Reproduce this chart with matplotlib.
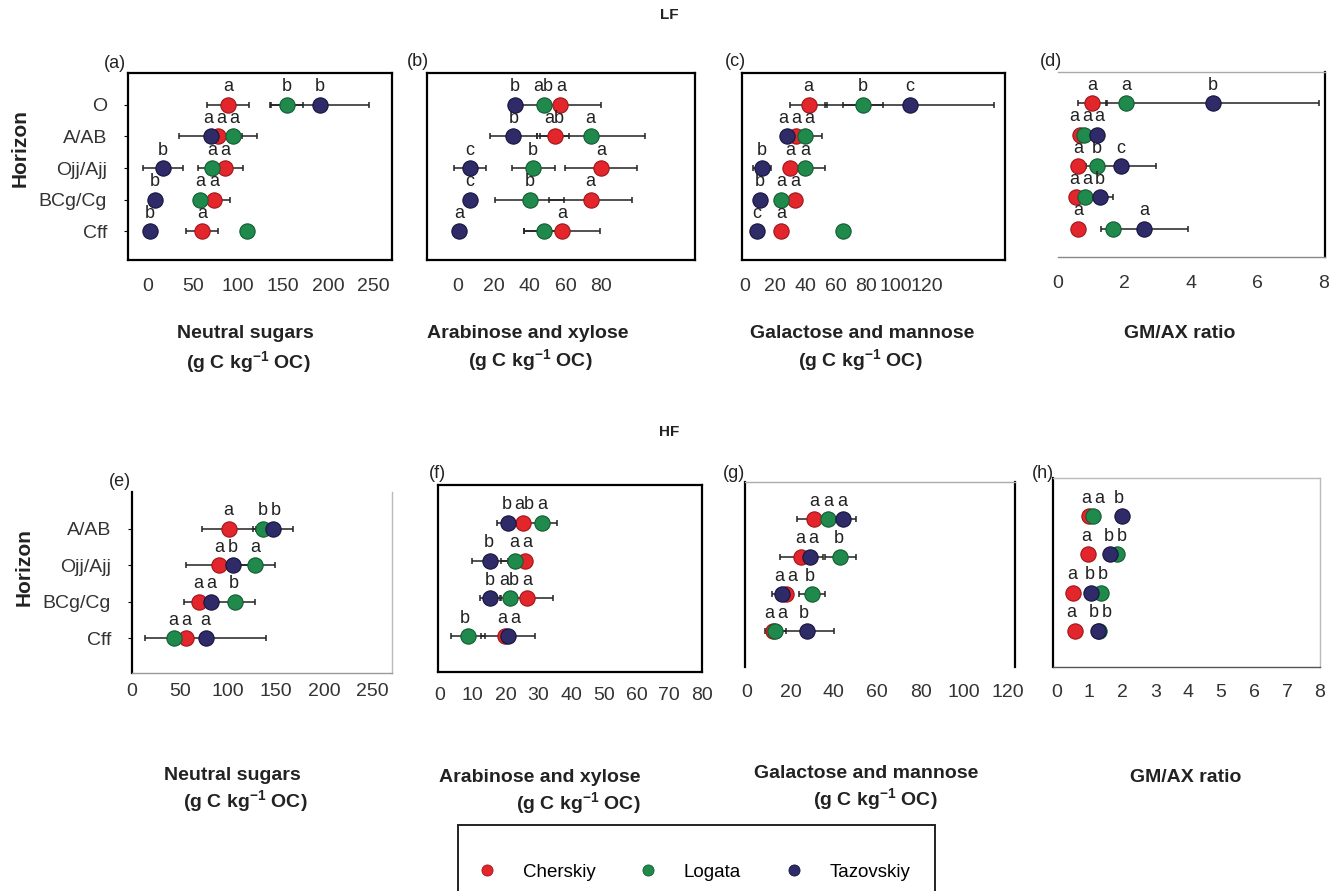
import matplotlib
matplotlib.use('Agg')
import matplotlib.pyplot as plt
from matplotlib.patches import Rectangle
from matplotlib.lines import Line2D
import numpy as np

plt.rcParams['font.family'] = ['Liberation Sans', 'DejaVu Sans']
plt.rcParams['mathtext.fontset'] = 'custom'
plt.rcParams['mathtext.rm'] = 'Liberation Sans'
plt.rcParams['mathtext.bf'] = 'Liberation Sans:bold'

sites = ['Cherskiy', 'Logata', 'Tazovskiy']
colors = ['#e3262b', '#1f8a4c', '#2e2b68']
edges = ['#a01519', '#125c31', '#17153c']

lf_horizons = ['O', 'A/AB', 'Ojj/Ajj', 'BCg/Cg', 'Cff']
hf_horizons = ['A/AB', 'Ojj/Ajj', 'BCg/Cg', 'Cff']

# rows of each list: Cherskiy, Logata, Tazovskiy
# (a) LF neutral sugars
lf_ns_mean = [[89, 78, 86, 74, 60], [154, 95, 71, 58, 110], [191, 70, 17, 8, 2]]
lf_ns_err = [[23, 43, 20, 17, 18], [18, 10, 15, 0, 0], [54, 0, 22, 0, 0]]
lf_ns_let = [['a', 'a', 'a', 'a', 'a'], ['b', 'a', 'a', 'a', ''], ['b', 'a', 'b', 'b', 'b']]
# (b) LF arabinose + xylose
lf_ax_mean = [[57, 54, 80, 74, 58], [48, 74, 42, 40, 48], [32, 31, 7, 7, 1]]
lf_ax_err = [[23, 8, 20, 23, 21], [0, 30, 12, 19, 11], [0, 13, 9, 0, 0]]
lf_ax_let = [['a', 'ab', 'a', 'a', 'a'], ['ab', 'a', 'b', 'b', ''], ['b', 'b', 'c', 'c', 'a']]
# (c) LF galactose + mannose
lf_gm_mean = [[42, 34, 30, 33, 24], [78, 40, 40, 24, 65], [109, 28, 11, 10, 8]]
lf_gm_err = [[12, 0, 0, 0, 0], [13, 11, 13, 0, 0], [56, 0, 6, 0, 0]]
lf_gm_let = [['a', 'a', 'a', 'a', 'a'], ['b', 'a', 'a', 'a', ''], ['c', 'a', 'b', 'b', 'c']]
# (d) LF GM/AX ratio
lf_ratio_mean = [[1.03, 0.65, 0.6, 0.53, 0.6], [2.06, 0.77, 1.18, 0.82, 1.65], [4.65, 1.18, 1.9, 1.26, 2.6]]
lf_ratio_err = [[0.43, 0, 0, 0, 0], [0, 0, 0, 0, 0], [3.2, 0, 1.05, 0.4, 1.3]]
lf_ratio_let = [['a', 'a', 'a', 'a', 'a'], ['a', 'a', 'b', 'a', ''], ['b', 'a', 'c', 'b', 'a']]
# (e) HF neutral sugars
hf_ns_mean = [[101, 91, 70, 56], [137, 128, 107, 44], [147, 105, 82, 77]]
hf_ns_err = [[28, 35, 16, 0], [0, 21, 21, 0], [21, 0, 0, 63]]
hf_ns_let = [['a', 'a', 'a', 'a'], ['b', 'a', 'b', 'a'], ['b', 'b', 'a', 'a']]
# (f) HF arabinose + xylose
hf_ax_mean = [[25.4, 26, 26.6, 20], [31.2, 23, 21.4, 8.6], [20.8, 15.3, 15.3, 20.8]]
hf_ax_err = [[0, 0, 8, 0], [4.6, 4.5, 0, 5.2], [3.4, 5.5, 3.1, 8.2]]
hf_ax_let = [['ab', 'a', 'a', 'a'], ['a', 'a', 'ab', 'b'], ['b', 'b', 'b', 'a']]
# (g) HF galactose + mannose
hf_gm_mean = [[31, 25, 18, 12], [37.5, 43, 30, 13], [44, 29, 16, 27.6]]
hf_gm_err = [[8, 10, 0, 0], [0, 7, 6, 5], [6, 0, 4.5, 12.4]]
hf_gm_let = [['a', 'a', 'a', 'a'], ['a', 'b', 'b', 'a'], ['a', 'a', 'a', 'b']]
# (h) HF GM/AX ratio
hf_ratio_mean = [[1.0, 0.97, 0.52, 0.58], [1.1, 1.85, 1.35, 1.3], [2.0, 1.64, 1.05, 1.27]]
hf_ratio_err = [[0, 0, 0, 0], [0, 0, 0, 0], [0, 0, 0, 0]]
hf_ratio_let = [['a', 'a', 'a', 'a'], ['a', 'b', 'b', 'b'], ['b', 'b', 'b', 'b']]

W, H = 1338, 891
fig = plt.figure(figsize=(W / 100, H / 100), dpi=100)


def rect(l, t, r, b):
    return [l / W, 1 - b / H, (r - l) / W, (b - t) / H]


def fx(x):
    return x / W


def fy(y):
    return 1 - y / H


ns_label = 'Neutral sugars'
ax_label = 'Arabinose and xylose'
gm_label = 'Galactose and mannose'
ratio_label = 'GM/AX ratio'
unit_label = r'(g C kg$^{\mathbf{-1}}$ OC)'

panels = [
    ('(a)', lf_horizons, lf_ns_mean, lf_ns_err, lf_ns_let, (128, 73, 392, 260), (-22, 271), np.arange(0, 251, 50), 13, 'fbox'),
    ('(b)', lf_horizons, lf_ax_mean, lf_ax_err, lf_ax_let, (427, 73, 695, 260), (-17, 132), np.arange(0, 81, 20), 13, 'box'),
    ('(c)', lf_horizons, lf_gm_mean, lf_gm_err, lf_gm_let, (742, 73, 1005, 260), (-2, 172), np.arange(0, 121, 20), 13, 'box'),
    ('(d)', lf_horizons, lf_ratio_mean, lf_ratio_err, lf_ratio_let, (1058, 72, 1325, 257), (0.18, 8.03), np.arange(0, 9, 2), 13, 'd'),
    ('(e)', hf_horizons, hf_ns_mean, hf_ns_err, hf_ns_let, (132, 492, 392, 673), (0, 271), np.arange(0, 251, 50), 7, 'e'),
    ('(f)', hf_horizons, hf_ax_mean, hf_ax_err, hf_ax_let, (438, 485, 702, 672), (-0.6, 80), np.arange(0, 81, 10), 11, 'box'),
    ('(g)', hf_horizons, hf_gm_mean, hf_gm_err, hf_gm_let, (745, 482, 1015, 667), (-1, 123.5), np.arange(0, 121, 20), 12, 'g'),
    ('(h)', hf_horizons, hf_ratio_mean, hf_ratio_err, hf_ratio_let, (1053, 478, 1320, 667), (-0.1, 8.0), np.arange(0, 9, 1), 12, 'h'),
]

spine_styles = {
    'box': {'left': 'k', 'right': 'k', 'top': 'k', 'bottom': 'k'},
    'fbox': {'left': 'k', 'right': 'k', 'top': 'k', 'bottom': 'k'},
    'd': {'left': None, 'right': 'k', 'top': '#aaaaaa', 'bottom': '#888888'},
    'e': {'left': 'k', 'right': '#bbbbbb', 'top': None, 'bottom': '#999999'},
    'g': {'left': 'k', 'right': 'k', 'top': '#aaaaaa', 'bottom': None},
    'h': {'left': 'k', 'right': '#bbbbbb', 'top': '#bbbbbb', 'bottom': '#555555'},
}


def place_letters(ax, xs, y, labs):
    pts = []
    for x, t in zip(xs, labs):
        if t:
            pts.append((ax.transData.transform((x, y))[0], x, t))
    pts.sort()
    if not pts:
        return
    orig = [p[0] for p in pts]
    new = list(orig)
    for i in range(1, len(new)):
        gap = 5.0 * (len(pts[i][2]) + len(pts[i - 1][2])) + 3
        if new[i] < new[i - 1] + gap:
            new[i] = new[i - 1] + gap
    shift = np.mean(new) - np.mean(orig)
    for (px, x, t), nx in zip(pts, new):
        dx = (nx - shift - px) * 72 / fig.dpi
        ax.annotate(t, (x, y), xytext=(dx, 13), textcoords='offset points',
                    ha='center', va='center', fontsize=13, color='#222222')


axes = []
for tag, horizons, mean, err, lets, box, xlim, ticks, pad, style in panels:
    ax = fig.add_axes(rect(*box))
    axes.append(ax)
    n = len(horizons)
    ypos = np.arange(1, n + 1)
    ax.set_xlim(*xlim)
    ax.set_ylim(5.9 if n == 5 else 4.95, 0.0)
    for k in range(3):
        e = np.array(err[k], dtype=float)
        m = np.array(mean[k], dtype=float)
        has = e > 0
        if has.any():
            ax.errorbar(m[has], ypos[has], xerr=e[has], fmt='none', ecolor='#222222',
                        elinewidth=1.1, capsize=2.5, capthick=1.1, zorder=1)
    for k in range(3):
        ax.plot(mean[k], ypos, 'o', ms=11, color=colors[k], mec=edges[k], mew=0.8,
                zorder=2 + k, linestyle='none')
    for r in range(n):
        place_letters(ax, [mean[k][r] for k in range(3)], ypos[r], [lets[k][r] for k in range(3)])
    ax.set_xticks(ticks)
    ax.set_xticklabels([str(t) for t in ticks])
    ax.tick_params(axis='x', length=0, pad=pad, labelsize=14, labelcolor='#333333')
    if tag in ('(a)', '(e)'):
        ax.set_yticks(ypos)
        ax.set_yticklabels(horizons)
        ax.tick_params(axis='y', length=3, pad=12, labelsize=14, labelcolor='#333333')
    else:
        ax.set_yticks([])
    for side, c in spine_styles[style].items():
        if c is None:
            ax.spines[side].set_visible(False)
        else:
            ax.spines[side].set_color(c)
            ax.spines[side].set_linewidth(1.6 if c == 'k' else 1.0)

# panel tags
tag_pos = [(115, 63), (418, 62), (735, 62), (1051, 62), (120, 482), (437, 473), (734, 473), (1043, 473)]
for (tag, *_), (x, y) in zip(panels, tag_pos):
    fig.text(fx(x), fy(y), tag, ha='center', va='center', fontsize=13, color='#222222')

# x axis titles
xl = [
    (ns_label, 245, 333, True), (ax_label, 528, 333, True), (gm_label, 862, 333, True), (ratio_label, 1180, 333, False),
    (ns_label, 232, 776, True), (ax_label, 540, 778, True), (gm_label, 866, 774, True), (ratio_label, 1186, 778, False),
]
unit_pos = [(248, 363), (530, 361), (860, 361), None, (245, 802), (578, 804), (875, 800), None]
for (txt, x, y, _), up in zip(xl, unit_pos):
    fig.text(fx(x), fy(y), txt, ha='center', va='center', fontsize=14, fontweight='bold', color='#222222')
    if up is not None:
        fig.text(fx(up[0]), fy(up[1]), unit_label, ha='center', va='center', fontsize=14,
                 fontweight='bold', color='#222222')

fig.text(fx(20), fy(148), 'Horizon', rotation=90, ha='center', va='center', fontsize=15,
         fontweight='bold', color='#222222')
fig.text(fx(24), fy(567), 'Horizon', rotation=90, ha='center', va='center', fontsize=15,
         fontweight='bold', color='#222222')
fig.text(fx(669), fy(15), 'LF', ha='center', va='center', fontsize=11, fontweight='bold', color='#222222')
fig.text(fx(669), fy(432), 'HF', ha='center', va='center', fontsize=11, fontweight='bold', color='#222222')

# legend
handles = [Line2D([], [], marker='o', linestyle='none', ms=8, color=colors[k], mec=edges[k], mew=0.6)
           for k in range(3)]
fig.legend(handles, sites, loc='center', bbox_to_anchor=(fx(694), fy(872)), ncol=3, frameon=False,
           fontsize=13.5, handlelength=1.0, handletextpad=1.4, columnspacing=2.3)
fig.patches.append(Rectangle((fx(458), -0.02), fx(935) - fx(458), fy(825) + 0.02, transform=fig.transFigure,
                             fill=False, edgecolor='#222222', linewidth=1.4, clip_on=False))

fig.savefig('out.png', dpi=100)
